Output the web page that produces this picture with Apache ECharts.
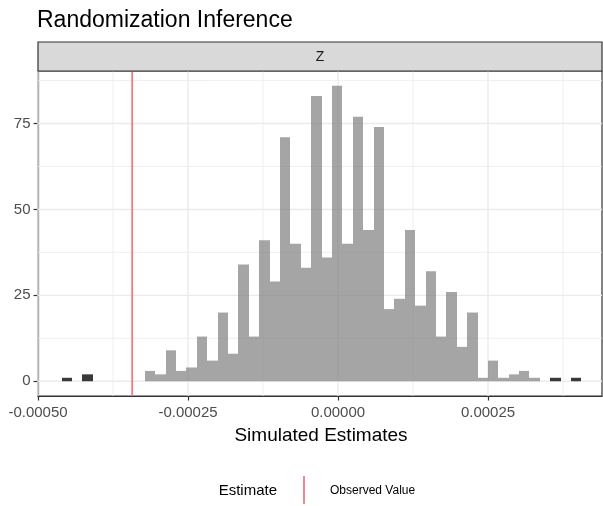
<!DOCTYPE html>
<html>
<head>
<meta charset="utf-8">
<script src="https://cdn.jsdelivr.net/npm/echarts@6/dist/echarts.min.js"></script>
<style>
html,body{margin:0;padding:0;background:#fff;}
#chart{width:603px;height:506px;}
</style>
</head>
<body>
<div id="chart"></div>
<script>
// ---- data ----
const binStart = -0.0004607;      // left edge of first bin
const binWidth = 0.00001733;      // histogram bin width
const counts = [1,0,2,0,0,0,0,0,3,2,9,3,4,13,6,20,8,34,13,41,29,71,40,33,83,36,86,40,77,44,74,21,24,44,22,32,13,26,10,20,1,6,1,2,3,1,0,1,0,1];
const observedValue = -0.000343;
const xMajorTicks = [-0.0005, -0.00025, 0, 0.00025];
const xTickLabels = ['-0.00050', '-0.00025', '0.00000', '0.00025'];
const xMinorTicks = [-0.000375, -0.000125, 0.000125, 0.000375];
const yMajorTicks = [0, 25, 50, 75];
const yMinorTicks = [12.5, 37.5, 62.5, 87.5];
const titleText = 'Randomization Inference';
const stripText = 'Z';
const xTitle = 'Simulated Estimates';
const legendTitle = 'Estimate';
const legendLabel = 'Observed Value';

const X_MIN = -0.0005, X_MAX = 0.00044, Y_MIN = -4.3, Y_MAX = 90.3;

const bins = counts.map((c, i) => {
  const lo = binStart + i * binWidth;
  const hi = lo + binWidth;
  const mid = (lo + hi) / 2;
  return [lo, hi, c, Math.abs(mid) > Math.abs(observedValue) ? 1 : 0];
}).filter(d => d[2] > 0);

// gridline records: [orientation (0 = vertical, 1 = horizontal), value, major?]
const gridLines = [
  ...xMinorTicks.map(v => [0, v, 0]),
  ...yMinorTicks.map(v => [1, v, 0]),
  ...xMajorTicks.map(v => [0, v, 1]),
  ...yMajorTicks.map(v => [1, v, 1])
];

const FONT = '"Liberation Sans", Arial, Helvetica, sans-serif';
const GRID = {left: 38, top: 71, width: 564, height: 325};

const chart = echarts.init(document.getElementById('chart'), null, {renderer: 'canvas'});

const option = {
  animation: false,
  backgroundColor: '#ffffff',
  grid: Object.assign({show: true, backgroundColor: '#ffffff', borderColor: '#333333', borderWidth: 1.2, containLabel: false}, GRID),
  xAxis: {
    type: 'value', min: X_MIN, max: X_MAX,
    axisLine: {show: true, onZero: false, lineStyle: {color: '#333333', width: 1.2}},
    axisTick: {show: true, length: 4.5, customValues: xMajorTicks, lineStyle: {color: '#333333', width: 1.2}},
    axisLabel: {show: true, customValues: xMajorTicks, margin: 9.5, color: '#4d4d4d', fontSize: 15, fontFamily: FONT,
      formatter: v => { const i = xMajorTicks.findIndex(t => Math.abs(t - v) < 1e-9); return i >= 0 ? xTickLabels[i] : ''; }},
    splitLine: {show: false}
  },
  yAxis: {
    type: 'value', min: Y_MIN, max: Y_MAX,
    axisLine: {show: true, onZero: false, lineStyle: {color: '#333333', width: 1.2}},
    axisTick: {show: true, length: 4.5, customValues: yMajorTicks, lineStyle: {color: '#333333', width: 1.2}},
    axisLabel: {show: true, customValues: yMajorTicks, margin: 7.5, color: '#4d4d4d', fontSize: 15, fontFamily: FONT},
    splitLine: {show: false}
  },
  series: [
    {
      type: 'custom', z: 1, silent: true,
      data: gridLines,
      renderItem: (params, api) => {
        const horiz = api.value(0) === 1;
        const v = api.value(1);
        const p0 = horiz ? api.coord([X_MIN, v]) : api.coord([v, Y_MIN]);
        const p1 = horiz ? api.coord([X_MAX, v]) : api.coord([v, Y_MAX]);
        return {
          type: 'line',
          shape: {x1: p0[0], y1: p0[1], x2: p1[0], y2: p1[1]},
          style: {stroke: '#ebebeb', lineWidth: api.value(2) === 1 ? 1.4 : 0.8}
        };
      }
    },
    {
      type: 'custom', z: 3,
      data: bins,
      renderItem: (params, api) => {
        const p0 = api.coord([api.value(0), api.value(2)]);
        const p1 = api.coord([api.value(1), 0]);
        const dark = api.value(3) === 1;
        const x0 = Math.round(p0[0]), x1 = Math.round(p1[0]);
        return {
          type: 'rect',
          shape: {x: x0, y: p0[1], width: x1 - x0, height: p1[1] - p0[1]},
          style: {fill: dark ? 'rgba(40,40,40,0.92)' : 'rgba(127,127,127,0.7)'}
        };
      }
    },
    {
      type: 'line', z: 4, silent: true, symbol: 'none',
      data: [[observedValue, Y_MIN], [observedValue, Y_MAX]],
      lineStyle: {color: '#F07A7E', width: 1.8}
    }
  ],
  graphic: [
    {type: 'text', left: 37, top: 9, style: {text: titleText, fontSize: 23, fontFamily: FONT, fill: '#000000'}},
    {type: 'rect', shape: {x: GRID.left, y: 42, width: GRID.width, height: GRID.top - 42}, style: {fill: '#d9d9d9', stroke: '#333333', lineWidth: 1.2}, z: 10},
    {type: 'text', x: GRID.left + GRID.width / 2, y: (42 + GRID.top) / 2 + 0.5, style: {text: stripText, fontSize: 14, fontFamily: FONT, fill: '#1a1a1a', align: 'center', verticalAlign: 'middle'}, z: 11},
    {type: 'text', x: 321, y: 436, style: {text: xTitle, fontSize: 19, fontFamily: FONT, fill: '#000000', align: 'center', verticalAlign: 'middle'}},
    {type: 'text', x: 277, y: 491, style: {text: legendTitle, fontSize: 15, fontFamily: FONT, fill: '#000000', align: 'right', verticalAlign: 'middle'}},
    {type: 'line', shape: {x1: 304, y1: 476, x2: 304, y2: 504}, style: {stroke: '#F07A7E', lineWidth: 1.8}},
    {type: 'text', x: 330, y: 491, style: {text: legendLabel, fontSize: 12, fontFamily: FONT, fill: '#000000', align: 'left', verticalAlign: 'middle'}}
  ]
};
chart.setOption(option);
</script>
</body>
</html>
